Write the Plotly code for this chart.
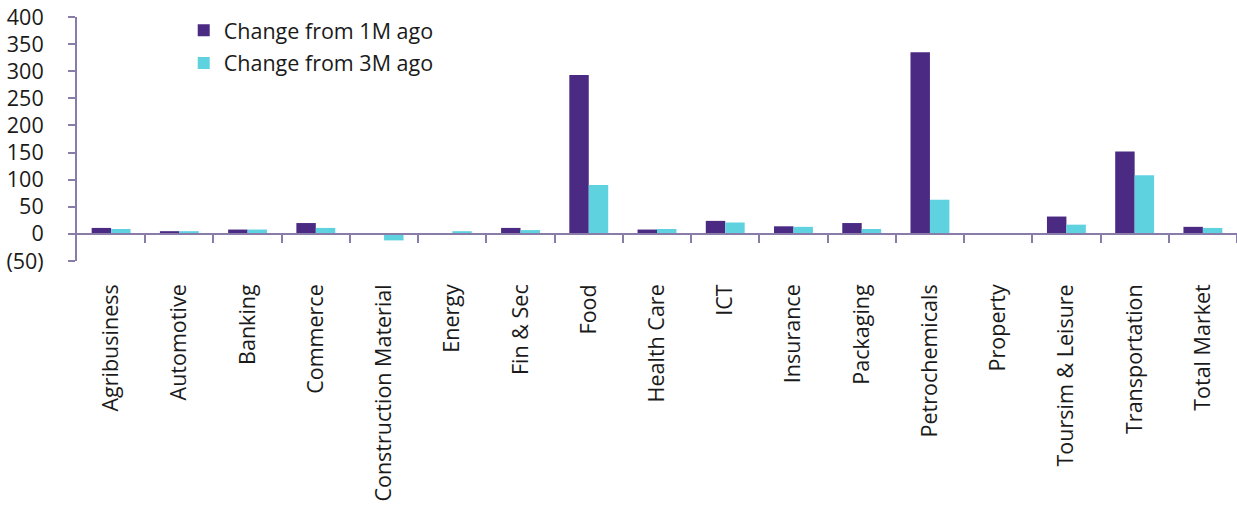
import plotly.graph_objects as go

categories = [
    "Agribusiness", "Automotive", "Banking", "Commerce", "Construction Material",
    "Energy", "Fin & Sec", "Food", "Health Care", "ICT", "Insurance", "Packaging",
    "Petrochemicals", "Property", "Toursim & Leisure", "Transportation", "Total Market",
]
change_1m = [11, 5, 8, 20, 1, 0, 11, 293, 8, 24, 14, 20, 335, 0, 32, 152, 13]
change_3m = [9, 5, 8, 11, -12, 5, 7, 90, 9, 21, 13, 9, 63, -1, 17, 108, 11]

y_ticks = [400, 350, 300, 250, 200, 150, 100, 50, 0, -50]
y_tick_text = [f"({abs(v)})" if v < 0 else str(v) for v in y_ticks]

AXIS = "#8a7ca8"
TEXT = "#1a1a1a"
FONT = "Open Sans"
SIZE = 21.5

fig = go.Figure()
fig.add_trace(go.Bar(
    x=categories, y=change_1m, name="Change from 1M ago",
    marker=dict(color="#4b2a84", line=dict(width=0)), legendgroup="a",
))
fig.add_trace(go.Bar(
    x=categories, y=change_3m, name="Change from 3M ago",
    marker=dict(color="#5fd2e0", line=dict(width=0)), legendgroup="b",
))
# invisible trace to host the zero-line axis with category-boundary ticks
fig.add_trace(go.Scatter(
    x=[-0.5, len(categories) - 0.5], y=[0, 0], xaxis="x2", mode="lines",
    line=dict(width=0), showlegend=False, hoverinfo="skip",
))

y_min, y_max = -50, 400
fig.update_layout(
    width=1237, height=506,
    margin=dict(l=77, r=0, t=17, b=245),
    paper_bgcolor="white", plot_bgcolor="white",
    font=dict(family=FONT, size=SIZE, color=TEXT),
    barmode="group", bargap=0.43, bargroupgap=0,
    showlegend=True,
    legend=dict(
        x=0.092, y=1.03, xanchor="left", yanchor="top",
        font=dict(family=FONT, size=SIZE, color=TEXT),
        bgcolor="rgba(0,0,0,0)", tracegroupgap=2,
        itemwidth=30,
    ),
    xaxis=dict(
        type="category", showline=False, ticks="", showgrid=False,
        tickangle=-90, ticklabelstandoff=18,
        tickfont=dict(family=FONT, size=SIZE, color=TEXT),
    ),
    xaxis2=dict(
        overlaying="x", anchor="free", position=(0 - y_min) / (y_max - y_min),
        side="bottom", range=[-0.5, len(categories) - 0.5],
        tickvals=[i + 0.5 for i in range(len(categories))],
        showticklabels=False, ticks="outside", ticklen=8, tickwidth=2,
        tickcolor=AXIS, showline=True, linecolor=AXIS, linewidth=2,
        showgrid=False, zeroline=False,
    ),
    yaxis=dict(
        range=[y_min, y_max], tickvals=y_ticks, ticktext=y_tick_text,
        showline=True, linecolor=AXIS, linewidth=2,
        ticks="outside", ticklen=7, tickwidth=2, tickcolor=AXIS,
        showgrid=False, zeroline=False, ticklabelstandoff=20,
        tickfont=dict(family=FONT, size=SIZE, color=TEXT),
    ),
)

fig.write_html("out.html")
